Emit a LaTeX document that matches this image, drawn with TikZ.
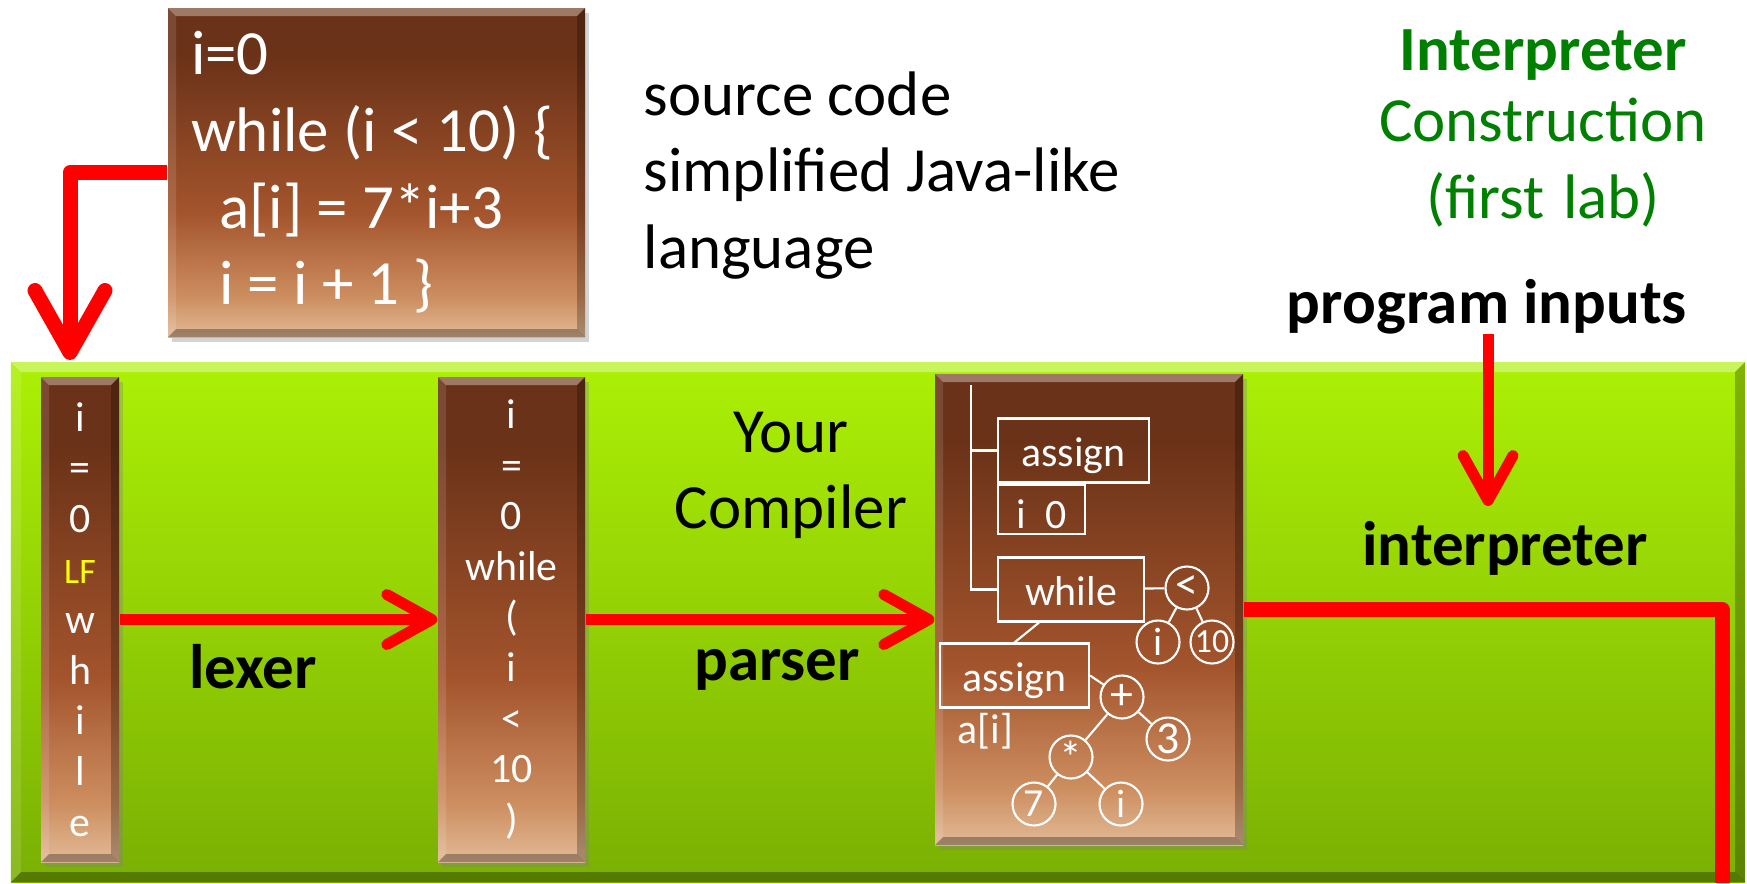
\documentclass[tikz,border=0pt]{standalone}
\usepackage{fontspec}
\setmainfont{Carlito}
\usetikzlibrary{calc,arrows.meta,positioning,shadows}

\definecolor{brdark}{RGB}{106,50,24}
\definecolor{brmid}{RGB}{163,84,44}
\definecolor{brtan}{RGB}{205,142,96}
\definecolor{brlight}{RGB}{226,186,150}
\definecolor{grtop}{RGB}{172,240,5}
\definecolor{grbot}{RGB}{122,176,4}
\definecolor{titlegreen}{RGB}{0,128,0}
\definecolor{lfyellow}{RGB}{255,255,0}

\pgfdeclareverticalshading{woodfade}{100bp}{color(0bp)=(brlight); color(25bp)=(brlight); color(31bp)=(brtan); color(44bp)=(brmid); color(68bp)=(brdark); color(100bp)=(brdark)}

\newcommand{\slidefont}{\fontsize{17.9}{21.8}\selectfont}
\newcommand{\tokfont}{\fontsize{11.9}{14.4}\selectfont}
\newcommand{\lffont}{\fontsize{10.2}{14.4}\selectfont}
\newcommand{\leaffont}{\fontsize{11.3}{12}\selectfont}

\begin{document}
\begin{tikzpicture}
		% Styles
		\tikzset{
			every node/.append style={execute at begin node={\spaceskip=0pt\xspaceskip=0pt}},
			bevel/.style={path picture={
				\path (path picture bounding box.north west) coordinate (bnw)
				      (path picture bounding box.south east) coordinate (bse);
				\fill[white, opacity=.35] (bnw) -- (bnw -| bse) -- ++(-#1,-#1) -- ($(bnw)+(#1,-#1)$) -- cycle;
				\fill[black, opacity=.25] (bse) -- (bse |- bnw) -- ++(-#1,-#1) -- ($(bse)+(-#1,#1)$) -- cycle;
				\fill[black, opacity=.3] (bse) -- (bnw |- bse) -- ++(#1,#1) -- ($(bse)+(-#1,#1)$) -- cycle;
				\fill[white, opacity=.12] (bnw) -- (bnw |- bse) -- ++(#1,#1) -- ($(bnw)+(#1,-#1)$) -- cycle;
			}},
			bevel/.default=0.08cm,
			wood/.style={shading=woodfade, bevel, inner sep=0pt,
				drop shadow={shadow xshift=0.04cm, shadow yshift=-0.05cm, opacity=0.35}},
			panel/.style={top color=grtop, bottom color=grbot, bevel=0.1cm, inner sep=0pt},
			tok/.style={wood, text=white, font=\tokfont, align=center, minimum height=4.85cm},
			astbox/.style={draw=white, line width=0.6pt, text=white, font=\tokfont, inner sep=0pt,
				text height=0.48cm, text depth=0.16cm},
			astleaf/.style={circle, draw=white, line width=0.6pt, text=white, font=\leaffont,
				inner sep=0pt, minimum size=0.43cm},
			twig/.style={draw=white, line width=0.6pt},
			flow/.style={draw=red, line width=0.11cm, -{Straight Barb[length=0.45cm, width=0.5cm, round]}},
			bigflow/.style={draw=red, line width=0.15cm, line join=round,
				-{Straight Barb[length=0.62cm, width=0.7cm, round]}},
			stage/.style={font=\slidefont\bfseries, inner sep=0pt}
		}
		\useasboundingbox (0,0) rectangle (17.47,-8.83);

		% Green stage panel
		\node[panel, minimum width=17.34cm, minimum height=5.2cm] (panel) at (8.78,-6.22) {};

		% Source program
		\node[wood, font=\slidefont, text=white, text width=3.71cm, inner xsep=0.23cm,
			minimum height=3.29cm, align=left] (src) at (3.765,-1.725)
			{i=0\\while~(i~<~10)~\{\\\hspace*{0.45em}a[i]~=~7*i+3\\\hspace*{0.45em}i~=~i~+~1~\}};
		\node[font=\slidefont, anchor=base west, align=left, text width=5.4cm, inner sep=0pt] (lang)
			at (6.43,-1.15) {source code\\simplified Java-like\\language};
		\node[font=\slidefont, text=titlegreen, align=center, text width=4cm, inner sep=0pt, anchor=base] (course)
			at (15.43,-0.70) {\textbf{Interpreter}\\[-0.05cm]Construction\\(first lab)};

		% Character and token streams
		\node[tok, text width=0.78cm] (chars) at (0.80,-6.195)
			{i\\=\\0\\{\color{lfyellow}\lffont LF}\\w\\h\\i\\l\\e};
		\node[tok, text width=1.47cm] (tokens) at (5.115,-6.195)
			{i\\=\\0\\while\\(\\i\\<\\10\\)};

		% Syntax tree
		\node[wood, minimum width=3.08cm, minimum height=4.71cm] (ast) at (10.89,-6.095) {};
		\node[astbox, minimum width=1.51cm] (asgn) at (10.735,-4.505) {assign};
		\node[astbox, minimum width=0.87cm, anchor=north west, text height=0.44cm, text depth=0.05cm]
			(asgnval) at (asgn.south west) {i~~0};
		\node[astbox, minimum width=1.46cm, anchor=west] (loop) at (asgn.west |- 0,-5.895) {while};
		\node[astleaf, font=\fontsize{13}{14}\selectfont] (less) at (11.87,-5.88) {<};
		\node[astleaf] (lessl) at (11.58,-6.42) {i};
		\node[astleaf, font=\fontsize{9.6}{10}\selectfont] (lessr) at (12.12,-6.42) {10};
		\node[astbox, minimum width=1.49cm] (store) at (10.145,-6.755) {assign};
		\node[font=\tokfont, text=white, anchor=base west, inner sep=0pt] (target) at (9.57,-7.43) {a[i]};
		\node[astleaf, font=\fontsize{13}{14}\selectfont] (plus) at (11.22,-6.97) {+};
		\node[astleaf, font=\fontsize{13}{14}\selectfont] (three) at (11.68,-7.39) {3};
		\node[astleaf, font=\fontsize{13}{14}\selectfont] (times) at (10.71,-7.57) {\raisebox{-0.2em}{*}};
		\node[astleaf] (seven) at (10.34,-8.04) {7};
		\node[astleaf] (ivar) at (11.21,-8.04) {i};

		\coordinate (root) at (9.71,-3.85);
		\draw[twig] (root) |- (asgn.west);
		\draw[twig] (root) |- (loop.west);
		\draw[twig] (loop) -- (less);
		\draw[twig] (less) -- (lessl);
		\draw[twig] (less) -- (lessr);
		\draw[twig] ([xshift=-0.32cm]loop.south) -- (store.north);
		\draw[twig] (store.east) -- (plus);
		\draw[twig] (plus) -- (three);
		\draw[twig] (plus) -- (times);
		\draw[twig] (times) -- (seven);
		\draw[twig] (times) -- (ivar);

		% Stage labels
		\node[font=\slidefont, align=center, text width=3cm, inner sep=0pt, anchor=base] (you)
			at (7.91,-4.52) {Your\\Compiler};
		\node[stage, anchor=base] (lexlbl) at (2.53,-6.88) {lexer};
		\node[stage, anchor=base] (parselbl) at (7.77,-6.80) {parser};
		\node[stage, anchor=base] (inputs) at (14.87,-3.23) {program inputs};
		\node[stage, anchor=base] (interp) at (15.05,-5.65) {interpreter};

		% Data flow
		\coordinate (intake) at (0.70,-3.60);
		\draw[bigflow] (src.west) -| (intake);
		\draw[flow] (chars) -- (tokens);
		\draw[flow] (tokens.east) -- (tokens.east -| ast.west);
		\coordinate (intip) at (14.88,-5.06);
		\draw[flow] (inputs.south -| intip) -- (intip);
		\coordinate (result) at (17.22,-8.83);
		\draw[red, line width=0.15cm, line join=round] (ast.east) -| (result);

	\end{tikzpicture}
\end{document}
